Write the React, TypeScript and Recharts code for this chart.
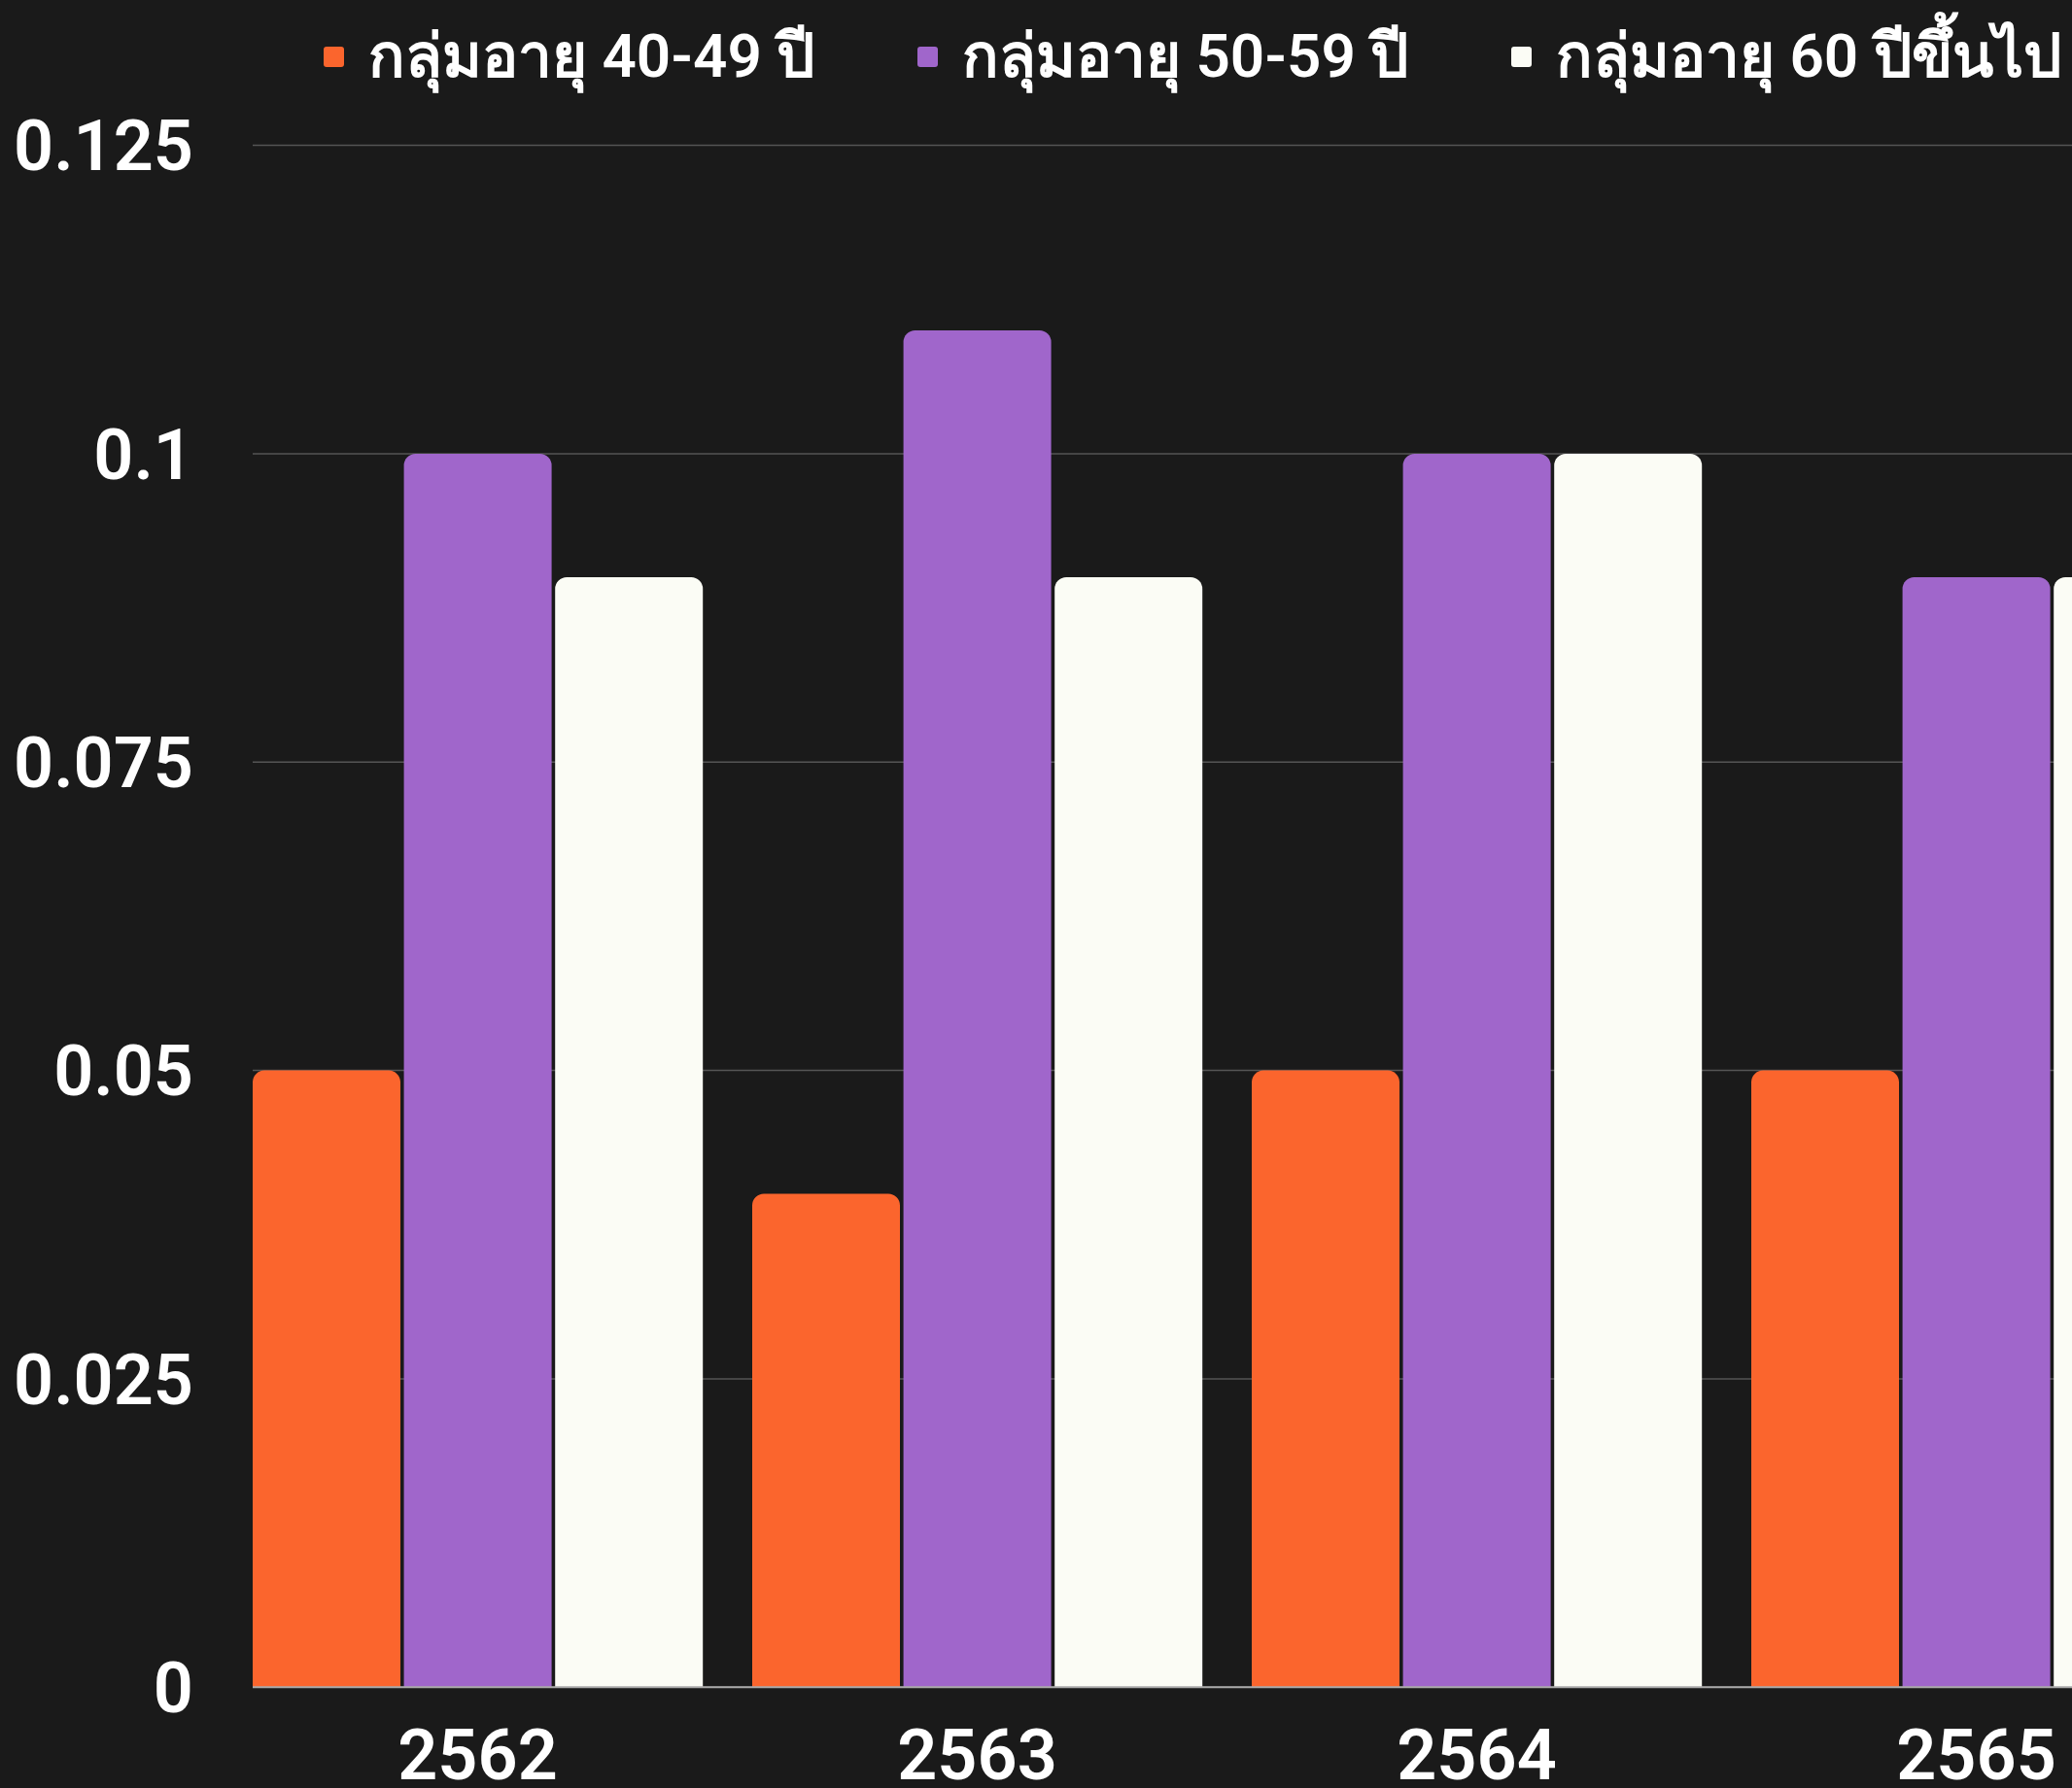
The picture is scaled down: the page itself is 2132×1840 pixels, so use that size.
import React from 'react';
import { BarChart, Bar, XAxis, YAxis, CartesianGrid, Legend } from 'recharts';

const years = ['2562', '2563', '2564', '2565'];
const age40to49 = [0.05, 0.04, 0.05, 0.05];
const age50to59 = [0.1, 0.11, 0.1, 0.09];
const age60plus = [0.09, 0.09, 0.1, 0.09];
const yTicks = [0, 0.025, 0.05, 0.075, 0.1, 0.125];
const seriesNames = ['กลุ่มอายุ 40-49 ปี', 'กลุ่มอายุ 50-59 ปี', 'กลุ่มอายุ 60 ปีขึ้นไป'];
const seriesColors = ['#FB652D', '#A066CB', '#FBFCF5'];

const data = years.map((y, i) => ({
  year: y,
  a: age40to49[i],
  b: age50to59[i],
  c: age60plus[i],
}));

const FONT = "Roboto, 'Noto Sans', 'DejaVu Sans', sans-serif";

const LegendContent = () => (
  <div style={{ display: 'flex', flexDirection: 'row', fontFamily: FONT }}>
    {seriesNames.map((n, i) => (
      <div key={n} style={{ width: 611, display: 'flex', alignItems: 'center', whiteSpace: 'nowrap' }}>
        <span style={{ width: 21, height: 21, background: seriesColors[i], borderRadius: 3, marginRight: 25, flex: 'none' }} />
        <span style={{ color: '#FFFFFF', fontSize: 62, fontWeight: 600, lineHeight: '72px' }}>{n}</span>
      </div>
    ))}
  </div>
);

export default function App() {
  return (
    <div style={{ position: 'fixed', left: 0, top: 0, width: 2132, height: 1840, overflow: 'hidden', background: '#1A1A1A' }}>
      <BarChart
        width={2300}
        height={1840}
        data={data}
        margin={{ top: 149.6, right: 9.5, bottom: 0, left: 0 }}
        barCategoryGap={25.5}
        barGap={3.6}
        style={{ fontFamily: FONT }}
      >
        <CartesianGrid vertical={false} stroke="#555555" strokeWidth={1.5} />
        <XAxis
          dataKey="year"
          height={103.7}
          padding={{ left: -25.5, right: 0 }}
          axisLine={{ stroke: '#AAAAAA', strokeWidth: 2 }}
          tickLine={false}
          tickSize={0}
          tickMargin={44}
          tick={{ fill: '#FFFFFF', fontSize: 72, fontWeight: 600 }}
          interval={0}
        />
        <YAxis
          width={260}
          domain={[0, 0.125]}
          ticks={yTicks}
          axisLine={false}
          tickLine={false}
          tickSize={0}
          tickMargin={61}
          tick={{ fill: '#FFFFFF', fontSize: 72, fontWeight: 600 }}
          allowDataOverflow
        />
        <Legend
          layout="horizontal"
          verticalAlign="middle"
          align="center"
          content={<LegendContent />}
          wrapperStyle={{ top: 22, left: 333, width: 'auto' }}
        />
        <Bar dataKey="a" name={seriesNames[0]} fill={seriesColors[0]} radius={[12, 12, 0, 0]} isAnimationActive={false} />
        <Bar dataKey="b" name={seriesNames[1]} fill={seriesColors[1]} radius={[12, 12, 0, 0]} isAnimationActive={false} />
        <Bar dataKey="c" name={seriesNames[2]} fill={seriesColors[2]} radius={[12, 12, 0, 0]} isAnimationActive={false} />
      </BarChart>
    </div>
  );
}
